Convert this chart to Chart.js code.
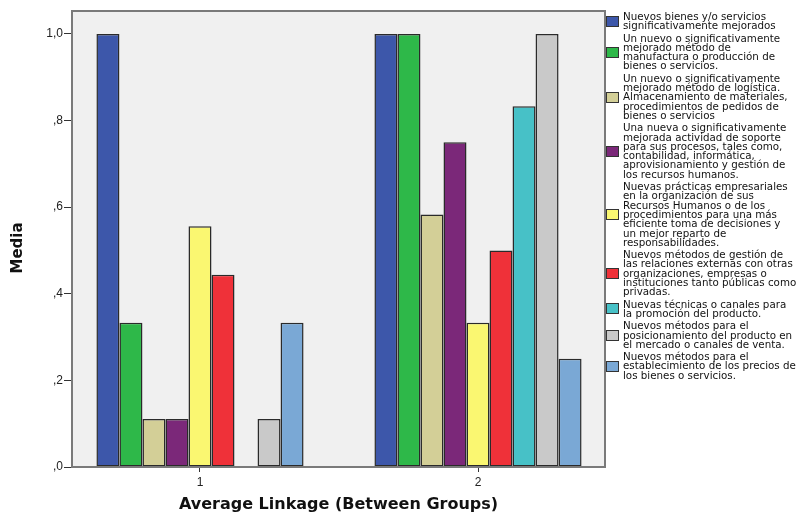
<!DOCTYPE html>
<html>
<head>
<meta charset="utf-8">
<script src="https://cdn.jsdelivr.net/npm/chart.js@4.4.0/dist/chart.umd.min.js"></script>
<style>
  html, body { margin: 0; padding: 0; background: #fff; }
  #wrap { position: relative; width: 805px; height: 517px; }
  #chart { position: absolute; left: 0; top: 0; }
  #legend {
    position: absolute; left: 606px; top: 12px; width: 199px;
    font-family: "DejaVu Sans", Verdana, sans-serif; font-size: 10.3px;
    line-height: 9.3px; color: #111;
  }
  .item { display: flex; align-items: center; margin-bottom: 3px; }
  .swatch { width: 11px; height: 9px; border: 1px solid #333; flex: none; margin-right: 4px; }
  .text { white-space: nowrap; }
</style>
</head>
<body>
<div id="wrap">
  <canvas id="chart" width="805" height="517"></canvas>
  <div id="legend"></div>
</div>
<script>
// cluster groups (Average Linkage)
const groups = [1, 2];

// innovation types, one series each
const seriesNames = [
  ["Nuevos bienes y/o servicios", "significativamente mejorados"],
  ["Un nuevo o significativamente", "mejorado método de", "manufactura o producción de", "bienes o servicios."],
  ["Un nuevo o significativamente", "mejorado método de logística.", "Almacenamiento de materiales,", "procedimientos de pedidos de", "bienes o servicios"],
  ["Una nueva o significativamente", "mejorada actividad de soporte", "para sus procesos, tales como,", "contabilidad, informática,", "aprovisionamiento y gestión de", "los recursos humanos."],
  ["Nuevas prácticas empresariales", "en la organización de sus", "Recursos Humanos o de los", "procedimientos para una más", "eficiente toma de decisiones y", "un mejor reparto de", "responsabilidades."],
  ["Nuevos métodos de gestión de", "las relaciones externas con otras", "organizaciones, empresas o", "instituciones tanto públicas como", "privadas."],
  ["Nuevas técnicas o canales para", "la promoción del producto."],
  ["Nuevos métodos para el", "posicionamiento del producto en", "el mercado o canales de venta."],
  ["Nuevos métodos para el", "establecimiento de los precios de", "los bienes o servicios."]
];

const colors = ["#3d57aa", "#2eb849", "#d3cf97", "#7b2879", "#faf771", "#ef3139", "#47c1c7", "#c9c9c9", "#7aa8d5"];

// mean per group, same order as seriesNames
const group1Values = [1.0, 0.333, 0.111, 0.111, 0.556, 0.444, 0.0, 0.111, 0.333];
const group2Values = [1.0, 1.0, 0.583, 0.75, 0.333, 0.5, 0.833, 1.0, 0.25];

const yTicks = [0, 0.2, 0.4, 0.6, 0.8, 1.0];

const datasets = seriesNames.map((name, i) => ({
  label: name.join(" "),
  data: [
    { x: groups[0], y: group1Values[i] },
    { x: groups[1], y: group2Values[i] }
  ],
  backgroundColor: colors[i],
  borderColor: "#2a2a2a",
  borderWidth: 1.5,
  borderSkipped: false,
  categoryPercentage: 0.745,
  barPercentage: 1.0
}));

// plot panel: light grey fill, grey frame and the rotated y title
const panel = {
  id: "panel",
  beforeDatasetsDraw(chart) {
    const a = chart.chartArea, ctx = chart.ctx;
    ctx.save();
    ctx.fillStyle = "#f0f0f0";
    ctx.fillRect(a.left, a.top, a.right - a.left, a.bottom - a.top);
    ctx.restore();
  },
  afterDatasetsDraw(chart) {
    const a = chart.chartArea, ctx = chart.ctx;
    ctx.save();
    ctx.strokeStyle = "#7a7a7a";
    ctx.lineWidth = 2;
    ctx.strokeRect(a.left, a.top, a.right - a.left, a.bottom - a.top);
    ctx.restore();
  },
  afterDraw(chart) {
    const ctx = chart.ctx;
    ctx.save();
    ctx.translate(18, 248);
    ctx.rotate(-Math.PI / 2);
    ctx.font = "bold 15px 'DejaVu Sans'";
    ctx.fillStyle = "#111";
    ctx.textAlign = "center";
    ctx.textBaseline = "middle";
    ctx.fillText("Media", 0, 0);
    ctx.restore();
  }
};

new Chart(document.getElementById("chart"), {
  type: "bar",
  data: { datasets },
  plugins: [panel],
  options: {
    responsive: false,
    animation: false,
    layout: { padding: { top: 11, right: 200, left: 0, bottom: 0 } },
    plugins: { legend: { display: false }, tooltip: { enabled: false } },
    scales: {
      x: {
        type: "linear",
        offset: false,
        min: 0.5396,
        max: 2.4568,
        afterBuildTicks: s => { s.ticks = groups.map(v => ({ value: v })); },
        afterFit: s => { s.height = 50; },
        grid: { offset: false, drawOnChartArea: false, drawTicks: true, tickLength: 5, color: "#333" },
        border: { display: false },
        ticks: { color: "#222", font: { family: "Liberation Sans", size: 12 }, padding: 3 },
        title: {
          display: true,
          text: "Average Linkage (Between Groups)",
          color: "#111",
          font: { family: "DejaVu Sans", size: 16, weight: "bold" },
          padding: { top: 2, bottom: 3 }
        }
      },
      y: {
        min: 0,
        max: 1.053,
        afterBuildTicks: s => { s.ticks = yTicks.map(v => ({ value: v })); },
        afterFit: s => { s.width = 72; },
        grid: { drawOnChartArea: false, drawTicks: true, tickLength: 8, color: "#333" },
        border: { display: false },
        ticks: {
          color: "#222",
          font: { family: "Liberation Sans", size: 12 },
          padding: 1,
          callback: v => v === 1 ? "1,0" : "," + Math.round(v * 10)
        },
        title: { display: false }
      }
    }
  }
});

// legend on the right
const legend = document.getElementById("legend");
seriesNames.forEach((lines, i) => {
  const item = document.createElement("div");
  item.className = "item";
  const sw = document.createElement("div");
  sw.className = "swatch";
  sw.style.background = colors[i];
  const txt = document.createElement("div");
  txt.className = "text";
  txt.innerHTML = lines.join("<br>");
  item.appendChild(sw);
  item.appendChild(txt);
  legend.appendChild(item);
});
</script>
</body>
</html>
